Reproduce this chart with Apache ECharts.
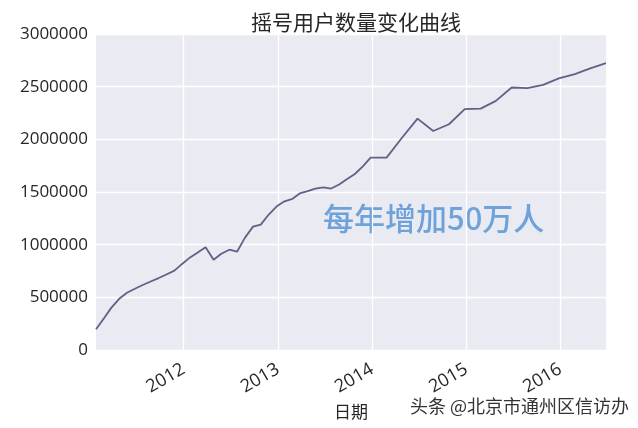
<!DOCTYPE html>
<html>
<head>
<meta charset="utf-8">
<script src="https://cdn.jsdelivr.net/npm/echarts@6/dist/echarts.min.js"></script>
<style>
html,body{margin:0;padding:0;background:#fff;}
#chart{width:638px;height:428px;}
</style>
</head>
<body>
<div id="chart"></div>
<script>
const titleText = '摇号用户数量变化曲线';
const xAxisName = '日期';
const noteText = '每年增加50万人';
const watermarkText = '头条 @北京市通州区信访办';

const dates = [
  '2011-01-26','2011-02-26','2011-03-26','2011-04-26','2011-05-26','2011-06-26',
  '2011-07-26','2011-08-26','2011-09-26','2011-10-26','2011-11-26','2011-12-26',
  '2012-01-26','2012-02-26','2012-03-26','2012-04-26','2012-05-26','2012-06-26',
  '2012-07-26','2012-08-26','2012-09-26','2012-10-26','2012-11-26','2012-12-26',
  '2013-01-26','2013-02-26','2013-03-26','2013-04-26','2013-05-26','2013-06-26',
  '2013-07-26','2013-08-26','2013-09-26','2013-10-26','2013-11-26','2013-12-26',
  '2014-02-26','2014-04-26','2014-06-26','2014-08-26','2014-10-26','2014-12-26',
  '2015-02-26','2015-04-26','2015-06-26','2015-08-26','2015-10-26','2015-12-26',
  '2016-02-26','2016-04-26','2016-06-26'
];
const users = [
  197000, 301000, 400000, 486000, 543000, 581000,
  617000, 650000, 683000, 717000, 753000, 817000,
  879000, 927000, 976000, 857000, 914000, 952000,
  933000, 1067000, 1171000, 1190000, 1286000, 1362000,
  1412000, 1435000, 1486000, 1508000, 1533000, 1543000,
  1533000, 1571000, 1624000, 1671000, 1743000, 1826000,
  1826000, 2013000, 2197000, 2079000, 2143000, 2286000,
  2292000, 2365000, 2492000, 2486000, 2517000, 2578000,
  2619000, 2673000, 2724000
];
const yearTicks = ['2012-01-01','2013-01-01','2014-01-01','2015-01-01','2016-01-01'];
const xMin = '2011-01-26';
const xMax = '2016-06-26';

const ts = s => { const p = s.split('-').map(Number); return Date.UTC(p[0], p[1]-1, p[2]); };
const seriesData = dates.map((d, i) => [ts(d), users[i]]);
const tickVals = yearTicks.map(ts);

const chart = echarts.init(document.getElementById('chart'), null, {renderer: 'canvas'});
const font = '"Open Sans", "Noto Sans CJK SC", sans-serif';
const cjk = '"Noto Sans CJK SC", sans-serif';
chart.setOption({
  animation: false,
  backgroundColor: '#ffffff',
  title: {
    text: titleText,
    left: 351, top: 7, textAlign: 'center',
    textStyle: {fontSize: 21, fontWeight: 'normal', color: '#262626', fontFamily: cjk}
  },
  grid: {
    left: 96, top: 34, width: 510, height: 316,
    show: true, backgroundColor: '#eaeaf2', borderWidth: 0
  },
  xAxis: {
    type: 'value',
    min: ts(xMin), max: ts(xMax),
    name: xAxisName, nameLocation: 'middle', nameGap: 48,
    nameTextStyle: {fontSize: 17, color: '#262626', fontFamily: cjk},
    axisLine: {show: false},
    axisTick: {show: false, customValues: tickVals},
    splitLine: {show: true, lineStyle: {color: '#ffffff', width: 1.3}},
    axisLabel: {
      customValues: tickVals,
      rotate: 30, margin: 18, fontSize: 18, color: '#262626', fontFamily: font,
      formatter: v => String(new Date(v).getUTCFullYear())
    }
  },
  yAxis: {
    type: 'value',
    min: 0, max: 3000000, interval: 500000,
    axisLine: {show: false},
    axisTick: {show: false},
    splitLine: {show: true, lineStyle: {color: '#ffffff', width: 1.3}},
    axisLabel: {margin: 8, fontSize: 17, color: '#262626', fontFamily: font,
      formatter: v => String(v)}
  },
  series: [{
    type: 'line',
    data: seriesData,
    showSymbol: false,
    lineStyle: {color: '#5c6385', width: 1.8},
    itemStyle: {color: '#5c6385'}
  }],
  graphic: [
    {
      type: 'text', left: 323, top: 203,
      style: {text: noteText, fontSize: 31, fontWeight: 500, fill: '#6ea2da', fontFamily: cjk}
    },
    {
      type: 'text', left: 410, top: 397,
      style: {text: watermarkText, fontSize: 18, fill: '#333333', fontFamily: cjk}
    }
  ]
});
</script>
</body>
</html>
